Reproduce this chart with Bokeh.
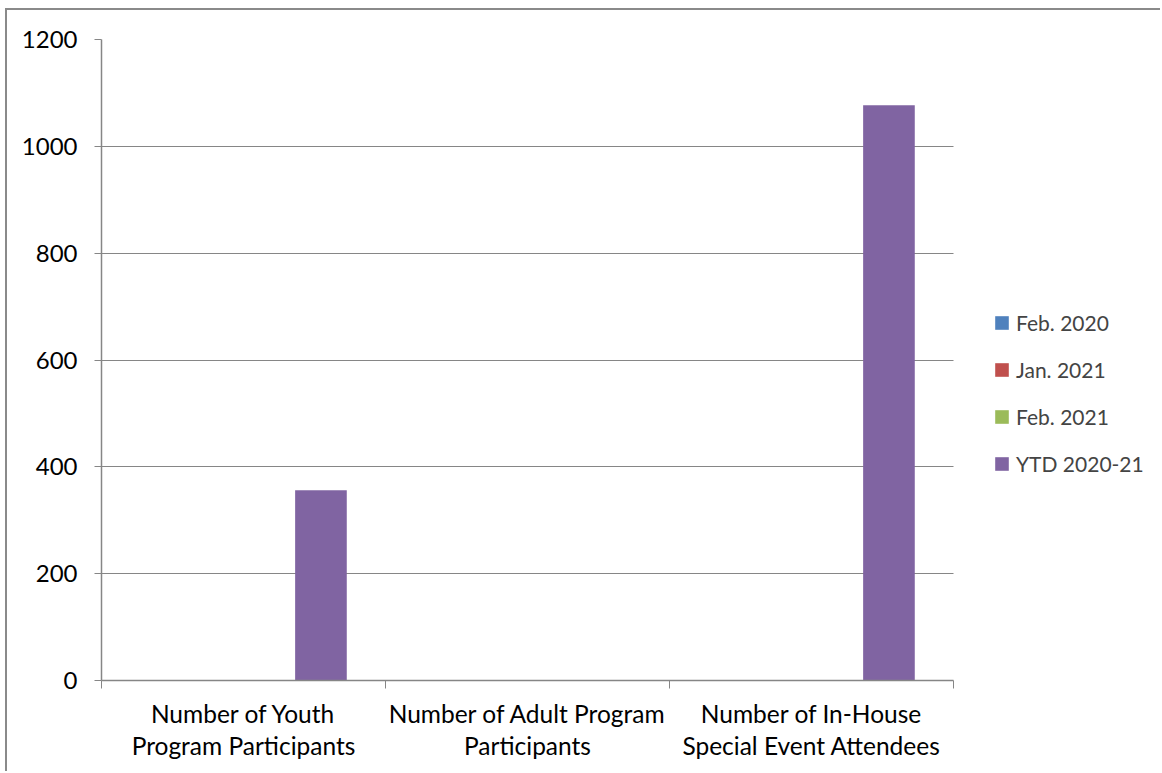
from bokeh.plotting import figure
from bokeh.models import (ColumnDataSource, Range1d, FixedTicker, Legend, LegendItem,
                          BoxAnnotation)
from bokeh.transform import dodge
from bokeh.embed import file_html
from bokeh.resources import INLINE

# --- data -------------------------------------------------------------------
categories = [
    "Number of Youth\nProgram Participants",
    "Number of Adult Program\nParticipants",
    "Number of In-House\nSpecial Event Attendees",
]
series_names = ["Feb. 2020", "Jan. 2021", "Feb. 2021", "YTD 2020-21"]
feb_2020 = [0, 0, 0]
jan_2021 = [0, 0, 0]
feb_2021 = [0, 0, 0]
ytd_2020_21 = [356, 0, 1077]
y_ticks = [0, 200, 400, 600, 800, 1000, 1200]

colors = ["#4F81BD", "#C0504D", "#9BBB59", "#8064A2"]
FONT = "Lato"
AXIS_GREY = "#868686"

# --- layout (pixels) ----------------------------------------------------------
CANVAS_W, CANVAS_H = 1155, 763
BORDER_L, BORDER_T, BORDER_B = 94, 29, 93
CAT_PX = 284            # width of one category slot
n_cat = len(categories)
# the frame runs to the right edge so the legend can sit beside the bars
x_end = (CANVAS_W - BORDER_L) / CAT_PX

centers = [i + 0.5 for i in range(n_cat)]
source = ColumnDataSource(dict(
    x=centers,
    feb_2020=feb_2020,
    jan_2021=jan_2021,
    feb_2021=feb_2021,
    ytd=ytd_2020_21,
))
columns = ["feb_2020", "jan_2021", "feb_2021", "ytd"]

p = figure(
    width=CANVAS_W, height=CANVAS_H,
    x_range=Range1d(0, x_end),
    y_range=Range1d(0, 1200),
    output_backend="svg", toolbar_location=None,
    min_border_left=BORDER_L, min_border_top=BORDER_T,
    min_border_right=0, min_border_bottom=BORDER_B,
)
p.outline_line_color = None
p.background_fill_color = "white"
p.border_fill_color = "white"
# chart area frame (top and left edges fall inside the page)
p.styles = {
    "margin-left": "5px",
    "margin-top": "8px",
    "border-left": "2px solid #8a8a8a",
    "border-top": "2px solid #8a8a8a",
}

p.xgrid.grid_line_color = None
p.ygrid.grid_line_color = AXIS_GREY
p.ygrid.grid_line_width = 1.2
# keep the gridlines to the plot area, clear of the legend
p.add_layout(BoxAnnotation(left=n_cat, fill_color="white", fill_alpha=1,
                           line_color=None, level="underlay"))

# clustered bars: 4 series per category, 150% gap width
slot = 1.0 / (len(columns) + 1.5)
items = []
for i, (col, name, c) in enumerate(zip(columns, series_names, colors)):
    offset = -0.5 + slot * (0.75 + i + 0.5)
    r = p.vbar(x=dodge("x", offset), top=col, width=slot, source=source,
               fill_color=c, line_color=None)
    items.append(LegendItem(label=name, renderers=[r]))

# x axis: labels at category centres, tick marks at category boundaries
xa = p.xaxis[0]
xa.bounds = (0, n_cat)
xa.ticker = FixedTicker(ticks=centers, minor_ticks=list(range(n_cat + 1)))
xa.major_label_overrides = {c: lab for c, lab in zip(centers, categories)}
xa.major_tick_line_color = None
xa.major_tick_out = 8
xa.major_tick_in = 0
xa.minor_tick_line_color = AXIS_GREY
xa.minor_tick_out = 8
xa.minor_tick_in = 0
xa.axis_line_color = AXIS_GREY
xa.axis_line_width = 1.5
xa.major_label_text_font = FONT
xa.major_label_text_font_size = "24.5px"
xa.major_label_text_color = "black"
xa.major_label_text_line_height = 1.13
xa.major_label_standoff = 10

ya = p.yaxis[0]
ya.ticker = FixedTicker(ticks=y_ticks)
ya.minor_tick_line_color = None
ya.major_tick_line_color = AXIS_GREY
ya.major_tick_out = 7
ya.major_tick_in = 0
ya.axis_line_color = AXIS_GREY
ya.axis_line_width = 1.5
ya.major_label_text_font = FONT
ya.major_label_text_font_size = "24px"
ya.major_label_text_color = "black"
ya.major_label_standoff = 17

legend = Legend(
    items=items, location=(892, 204),
    glyph_width=17, glyph_height=17, label_height=20, spacing=22,
    label_standoff=6, padding=0, margin=0,
    label_text_font=FONT, label_text_font_size="21px",
    border_line_color=None, background_fill_alpha=0,
)
p.add_layout(legend, "center")

open("out.html", "w").write(file_html(p, INLINE))
